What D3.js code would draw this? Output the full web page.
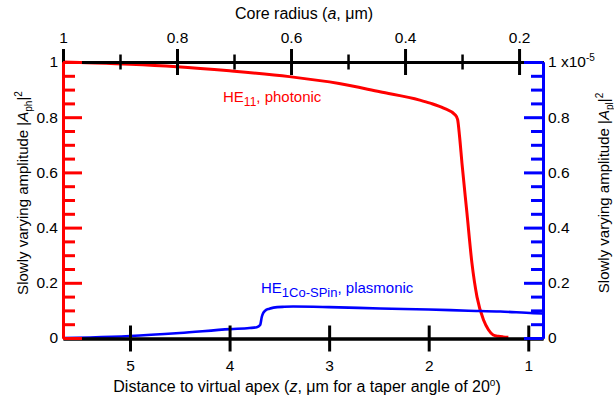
<!DOCTYPE html>
<html>
<head>
<meta charset="utf-8">
<script src="https://cdn.jsdelivr.net/npm/d3@7"></script>
<style>
  html, body { margin: 0; padding: 0; background: #fff; overflow: hidden; }
  svg { display: block; font-family: "Liberation Sans", Arial, sans-serif; }
  .lbl { font-size: 15.5px; fill: #000; }
  .ttl { font-size: 16px; fill: #000; }
  .ann { font-size: 15px; }
</style>
</head>
<body>
<svg id="chart" width="614" height="402"></svg>
<script>
// Photonic HE11 mode power along the taper: z (µm) and |A_ph|^2
const photonicZ   = [5.673, 5.50, 5.00, 4.53, 4.00, 3.40, 2.90, 2.49, 2.09, 1.985, 1.85, 1.733, 1.710, 1.690, 1.666, 1.616, 1.566, 1.515, 1.449, 1.400, 1.352, 1.300, 1.251, 1.20];
const photonicAmp = [1.000, 0.998, 0.992, 0.983, 0.968, 0.947, 0.922, 0.892, 0.862, 0.851, 0.833, 0.808, 0.792, 0.730, 0.634, 0.453, 0.272, 0.149, 0.065, 0.030, 0.011, 0.006, 0.004, 0.003];

// Plasmonic HE1Co-SPin mode power: z (µm) and |A_pl|^2 in units of 1e-5
const plasmonZ   = [5.673, 5.40, 5.00, 4.50, 3.995, 3.80, 3.727, 3.693, 3.676, 3.660, 3.643, 3.600, 3.559, 3.45, 3.361, 3.00, 2.487, 2.00, 1.60, 1.281, 0.949, 0.860];
const plasmonAmp = [0.000, 0.002, 0.007, 0.018, 0.032, 0.036, 0.039, 0.047, 0.077, 0.092, 0.099, 0.106, 0.110, 0.113, 0.114, 0.112, 0.107, 0.103, 0.099, 0.096, 0.090, 0.089];

// Axis ticks
const bottomTicks   = [5, 4, 3, 2, 1];
const topMajorTicks = [1, 0.8, 0.6, 0.4, 0.2];
const topMinorTicks = [0.9, 0.7, 0.5, 0.3];
const yMajorTicks   = [0, 0.2, 0.4, 0.6, 0.8, 1];
const yMinorTicks   = [0.05, 0.1, 0.15, 0.25, 0.3, 0.35, 0.45, 0.5, 0.55, 0.65, 0.7, 0.75, 0.85, 0.9, 0.95];

const plotLeft = 63, plotRight = 543, plotTop = 62, plotBottom = 338;
const RED = "#ff0000", BLUE = "#0000ff";

const svg = d3.select("#chart");

const zScale = d3.scaleLinear().domain([5.673, 0.852]).range([plotLeft, plotRight]);
const aScale = d3.scaleLinear().domain([1, 0.158]).range([plotLeft, plotRight]);
const yPh = d3.scaleLinear().domain([0, 1]).range([plotBottom, plotTop]);
const yPl = d3.scaleLinear().domain([0, 1]).range([plotBottom, plotTop]);

// Curves
const photonic = photonicZ.map((z, i) => [z, photonicAmp[i]]);
const plasmon  = plasmonZ.map((z, i) => [z, plasmonAmp[i]]);

svg.append("path")
  .datum(photonic)
  .attr("fill", "none").attr("stroke", RED).attr("stroke-width", 3)
  .attr("stroke-linejoin", "round")
  .attr("d", d3.line().x(d => zScale(d[0])).y(d => yPh(d[1])).curve(d3.curveMonotoneX));

svg.append("path")
  .datum(plasmon)
  .attr("fill", "none").attr("stroke", BLUE).attr("stroke-width", 2.6)
  .attr("stroke-linejoin", "round")
  .attr("d", d3.line().x(d => zScale(d[0])).y(d => yPl(d[1])).curve(d3.curveMonotoneX));

function styleAxis(g, color, width) {
  g.attr("font-family", null).attr("font-size", null);
  g.selectAll(".domain").attr("stroke", color).attr("stroke-width", width);
  g.selectAll(".tick line").attr("stroke", color).attr("stroke-width", width);
  g.selectAll(".tick text").attr("class", "lbl").attr("fill", "#000");
}

// Bottom axis (z), ticks crossing the line
const gB1 = svg.append("g").attr("transform", `translate(0,${plotBottom + 0.5})`)
  .call(d3.axisBottom(zScale).tickValues(bottomTicks).tickSize(13).tickSizeOuter(0).tickPadding(8).tickFormat(d3.format("d")));
styleAxis(gB1, "#000", 3);
const gB2 = svg.append("g").attr("transform", `translate(0,${plotBottom + 0.5})`)
  .call(d3.axisTop(zScale).tickValues(bottomTicks).tickSize(13).tickSizeOuter(0).tickFormat(""));
styleAxis(gB2, "#000", 3);

// Top axis (core radius a)
const gT1 = svg.append("g").attr("transform", `translate(0,${plotTop})`)
  .call(d3.axisTop(aScale).tickValues(topMajorTicks).tickSize(13).tickSizeOuter(0).tickPadding(6).tickFormat(d => d === 1 ? "1" : d3.format(".1f")(d)));
styleAxis(gT1, "#000", 3);
const gT2 = svg.append("g").attr("transform", `translate(0,${plotTop})`)
  .call(d3.axisBottom(aScale).tickValues(topMajorTicks).tickSize(13).tickSizeOuter(0).tickFormat(""));
styleAxis(gT2, "#000", 3);
const gT3 = svg.append("g").attr("transform", `translate(0,${plotTop})`)
  .call(d3.axisTop(aScale).tickValues(topMinorTicks).tickSize(7.5).tickSizeOuter(0).tickFormat(""));
styleAxis(gT3, "#000", 2.5);
const gT4 = svg.append("g").attr("transform", `translate(0,${plotTop})`)
  .call(d3.axisBottom(aScale).tickValues(topMinorTicks).tickSize(7.5).tickSizeOuter(0).tickFormat(""));
styleAxis(gT4, "#000", 2.5);

// Left axis (photonic, red), inward ticks
const gL2 = svg.append("g").attr("transform", `translate(${plotLeft},0)`)
  .call(d3.axisLeft(yPh).tickValues(yMinorTicks).tickSize(-12).tickSizeOuter(0).tickFormat(""));
styleAxis(gL2, RED, 3);
const gL1 = svg.append("g").attr("transform", `translate(${plotLeft},0)`)
  .call(d3.axisLeft(yPh).tickValues(yMajorTicks).tickSize(-19).tickSizeOuter(0).tickPadding(5)
    .tickFormat(d => d === 0 || d === 1 ? String(d) : d3.format(".1f")(d)));
styleAxis(gL1, RED, 3);

// Right axis (plasmonic, blue), inward ticks
const gR2 = svg.append("g").attr("transform", `translate(${plotRight},0)`)
  .call(d3.axisRight(yPl).tickValues(yMinorTicks).tickSize(-12).tickSizeOuter(0).tickFormat(""));
styleAxis(gR2, BLUE, 3);
const gR1 = svg.append("g").attr("transform", `translate(${plotRight},0)`)
  .call(d3.axisRight(yPl).tickValues(yMajorTicks).tickSize(-19).tickSizeOuter(0).tickPadding(5)
    .tickFormat(d => d === 0 ? "0" : d === 1 ? "" : d3.format(".1f")(d)));
styleAxis(gR1, BLUE, 3);

// Exponent label on the right axis
const exp = svg.append("text").attr("class", "lbl").attr("x", plotRight + 5).attr("y", plotTop + 5);
exp.append("tspan").text("1 x10");
exp.append("tspan").attr("font-size", 10).attr("dy", -6).text("-5");

// Axis titles
const tTop = svg.append("text").attr("class", "ttl").attr("text-anchor", "middle")
  .attr("x", 304).attr("y", 19);
tTop.append("tspan").text("Core radius (");
tTop.append("tspan").attr("font-style", "italic").text("a");
tTop.append("tspan").text(", μm)");

const tBot = svg.append("text").attr("class", "ttl").attr("text-anchor", "middle")
  .attr("x", 307).attr("y", 392);
tBot.append("tspan").text("Distance to virtual apex (");
tBot.append("tspan").attr("font-style", "italic").text("z");
tBot.append("tspan").text(", μm for a taper angle of 20");
tBot.append("tspan").attr("font-size", 10).attr("dy", -6).text("o");
tBot.append("tspan").attr("dy", 6).text(")");

function ampTitle(x, y, sub) {
  const t = svg.append("text").attr("class", "lbl").style("font-size", "15px").attr("text-anchor", "middle")
    .attr("transform", `translate(${x},${y}) rotate(-90)`);
  t.append("tspan").text("Slowly varying amplitude |");
  t.append("tspan").attr("font-style", "italic").text("A");
  t.append("tspan").attr("font-size", 10).attr("dy", 4).text(sub);
  t.append("tspan").attr("dy", -4).text("|");
  t.append("tspan").attr("font-size", 10).attr("dy", -6).text("2");
}
ampTitle(28, 193, "ph");
ampTitle(609, 193, "pl");

// Curve annotations
const aPh = svg.append("text").attr("class", "ann").attr("x", 223).attr("y", 102).style("fill", RED);
aPh.append("tspan").text("HE");
aPh.append("tspan").attr("font-size", 12).attr("dy", 4).text("11");
aPh.append("tspan").attr("dy", -4).text(", photonic");

const aPl = svg.append("text").attr("class", "ann").attr("x", 261).attr("y", 293).style("fill", BLUE);
aPl.append("tspan").text("HE");
aPl.append("tspan").attr("font-size", 13).attr("dy", 4).text("1Co-SPin");
aPl.append("tspan").attr("dy", -4).text(", plasmonic");
</script>
</body>
</html>
